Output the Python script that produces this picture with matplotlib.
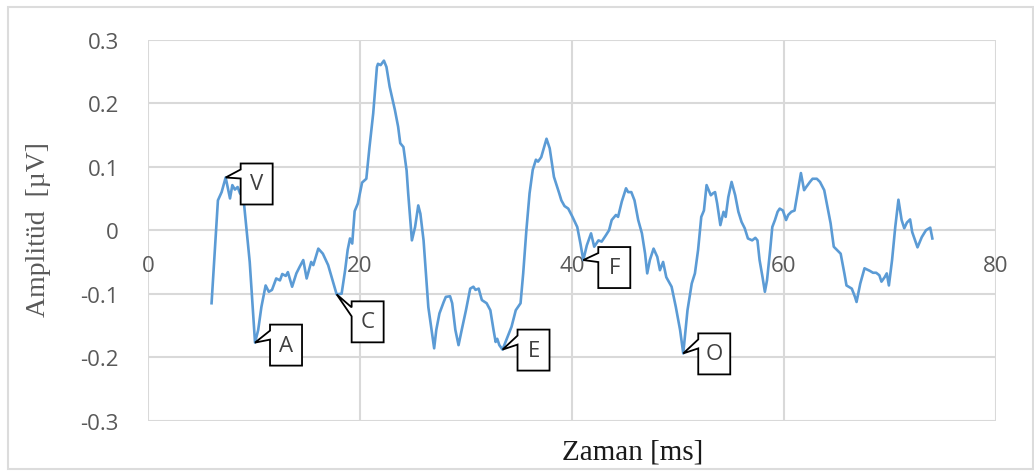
import matplotlib
matplotlib.use("Agg")
import matplotlib.pyplot as plt
from matplotlib.patches import Polygon, Rectangle
from matplotlib.transforms import ScaledTranslation

# traced waveform (time in ms, amplitude in uV)
time_ms = [6.0, 6.6, 6.95, 7.33, 7.74, 7.96, 8.2, 8.46, 8.68, 9.0, 9.6,
           10.1, 10.4, 10.7, 11.1, 11.4, 11.7, 12.1, 12.45, 12.67, 13.0,
           13.2, 13.6, 14.0, 14.3, 14.65, 14.97, 15.4, 15.6, 16.07, 16.5,
           17.0, 17.5, 17.8, 18.27, 18.6, 18.84, 19.06, 19.27, 19.5, 19.8,
           20.2, 20.6, 20.9, 21.25, 21.6, 21.7, 21.95, 22.26, 22.5, 22.8,
           23.3, 23.6, 23.8, 24.1, 24.4, 24.55, 24.9, 25.2, 25.5, 25.7,
           26.0, 26.2, 26.45, 26.8, 27.0, 27.2, 27.5, 27.9, 28.1, 28.5,
           28.7, 29.0, 29.3, 29.6, 30.0, 30.4, 30.7, 30.9, 31.2, 31.5,
           31.95, 32.3, 32.6, 32.8, 32.95, 33.15, 33.45, 33.8, 34.3, 34.7,
           35.15, 35.4, 35.7, 36.0, 36.3, 36.6, 36.8, 37.1, 37.6, 37.9,
           38.3, 38.8, 39.0, 39.3, 39.65, 40.05, 40.5, 40.8, 41.07, 41.4,
           41.8, 42.1, 42.5, 42.8, 43.2, 43.5, 43.75, 44.15, 44.35, 44.7,
           45.1, 45.3, 45.6, 45.9, 46.25, 46.6, 46.9, 47.1, 47.35, 47.7,
           48.05, 48.3, 48.6, 48.9, 49.4, 49.8, 50.2, 50.5, 50.9, 51.3,
           51.6, 51.9, 52.2, 52.45, 52.7, 53.1, 53.3, 53.5, 53.7, 54.0,
           54.3, 54.5, 54.75, 55.06, 55.4, 55.7, 56.0, 56.3, 56.6, 57.0,
           57.3, 57.5, 57.7, 57.98, 58.2, 58.4, 58.7, 58.9, 59.15, 59.4,
           59.6, 59.9, 60.2, 60.4, 60.7, 61.0, 61.35, 61.6, 61.9, 62.1,
           62.45, 62.7, 63.1, 63.4, 63.8, 64.1, 64.4, 64.7, 65.0, 65.35,
           65.7, 65.9, 66.4, 66.7, 66.85, 67.2, 67.6, 68.1, 68.4, 68.7,
           69.0, 69.2, 69.5, 69.7, 69.9, 70.2, 70.5, 70.8, 71.1, 71.35,
           71.6, 71.9, 72.1, 72.6, 73.0, 73.4, 73.8, 74.0]
amplitude = [-0.115, 0.047, 0.060, 0.083, 0.050, 0.071, 0.064, 0.068, 0.058, 0.052, -0.05,
             -0.177, -0.157, -0.121, -0.087, -0.097, -0.094, -0.076, -0.079, -0.069, -0.072,
             -0.066, -0.089, -0.068, -0.058, -0.047, -0.076, -0.050, -0.055, -0.029, -0.037,
             -0.055, -0.084, -0.101, -0.100, -0.063, -0.031, -0.013, -0.021, 0.030, 0.042,
             0.075, 0.081, 0.131, 0.184, 0.257, 0.262, 0.260, 0.267, 0.257, 0.226,
             0.189, 0.163, 0.137, 0.131, 0.094, 0.058, -0.016, 0.005, 0.039, 0.026,
             -0.016, -0.063, -0.121, -0.163, -0.186, -0.157, -0.131, -0.113, -0.105, -0.104,
             -0.115, -0.157, -0.181, -0.157, -0.126, -0.092, -0.089, -0.094, -0.092, -0.110,
             -0.115, -0.126, -0.157, -0.176, -0.171, -0.181, -0.188, -0.173, -0.152, -0.126,
             -0.115, -0.068, 0.000, 0.058, 0.095, 0.111, 0.108, 0.115, 0.144, 0.129,
             0.084, 0.058, 0.047, 0.038, 0.034, 0.021, 0.005, -0.021, -0.047, -0.024,
             -0.005, -0.026, -0.016, -0.018, -0.008, 0.000, 0.016, 0.024, 0.021, 0.045,
             0.066, 0.060, 0.060, 0.047, 0.016, -0.005, -0.037, -0.068, -0.047, -0.029,
             -0.042, -0.063, -0.050, -0.074, -0.089, -0.121, -0.157, -0.194, -0.126, -0.084,
             -0.068, -0.031, 0.021, 0.031, 0.071, 0.055, 0.058, 0.060, 0.042, 0.008,
             0.029, 0.021, 0.052, 0.076, 0.055, 0.029, 0.013, 0.003, -0.013, -0.016,
             -0.012, -0.016, -0.047, -0.074, -0.097, -0.079, -0.031, 0.005, 0.016, 0.029,
             0.034, 0.031, 0.016, 0.024, 0.029, 0.031, 0.066, 0.090, 0.063, 0.068,
             0.076, 0.081, 0.081, 0.076, 0.063, 0.037, 0.011, -0.026, -0.031, -0.037,
             -0.068, -0.087, -0.092, -0.105, -0.113, -0.084, -0.060, -0.064, -0.067, -0.067,
             -0.071, -0.081, -0.074, -0.068, -0.087, -0.047, 0.005, 0.048, 0.016, 0.003,
             0.012, 0.017, -0.003, -0.027, -0.011, 0.000, 0.004, -0.013]

# wave labels
peak_names = ['V', 'A', 'C', 'E', 'F', 'O']
peak_time = [7.33, 10.1, 17.8, 33.45, 41.07, 50.5]
peak_amp = [0.083, -0.177, -0.101, -0.188, -0.047, -0.194]
box_top_px = [-14, -18, 7, -20, -13, -20]   # box top relative to point, pixels

xticks = [0, 20, 40, 60, 80]
yticks = [-0.3, -0.2, -0.1, 0, 0.1, 0.2, 0.3]
ytick_labels = ['-0.3', '-0.2', '-0.1', '0', '0.1', '0.2', '0.3']

grid_c = '#d9d9d9'
tick_c = '#595959'

fig = plt.figure(figsize=(10.34, 4.77), dpi=100)
ax = fig.add_axes([0.1431, 0.1159, 0.8201, 0.7988])

ax.plot(time_ms, amplitude, color='#5b9bd5', lw=1.9, zorder=3)

ax.set_xlim(0, 80)
ax.set_ylim(-0.3, 0.3)
ax.set_xticks(xticks)
ax.set_yticks(yticks)
ax.set_yticklabels(ytick_labels)
ax.grid(True, color=grid_c, lw=1.5)
ax.set_axisbelow(True)
for s in ax.spines.values():
    s.set_visible(False)
ax.spines['bottom'].set_position(('data', 0))
ax.tick_params(length=0, labelsize=16, labelcolor=tick_c)
ax.tick_params(axis='x', pad=18)
ax.tick_params(axis='y', pad=21)
for lab in ax.get_xticklabels() + ax.get_yticklabels():
    lab.set_family('Open Sans')

# callout boxes
L, R = 15, 47
for name, t, v, top in zip(peak_names, peak_time, peak_amp, box_top_px):
    T, B = top, top + 41
    verts = [(0, 0), (L, T + 6), (L, T), (R, T), (R, B), (L, B), (L, T + 15)]
    verts = [(x / 100, -y / 100) for x, y in verts]
    tr = fig.dpi_scale_trans + ScaledTranslation(t, v, ax.transData)
    ax.add_patch(Polygon(verts, closed=True, transform=tr, fc='white',
                         ec='black', lw=1.3, clip_on=False, zorder=5))
    ax.annotate(name, (t, v), xytext=((L + R) / 2, -(T + B) / 2),
                textcoords='offset pixels', ha='center', va='center',
                fontsize=16, color='#404040', family='Open Sans', zorder=6)

fig.text(0.612, 0.052, 'Zaman [ms]', ha='center', va='center',
         fontsize=21, family='Liberation Serif', color='#1a1a1a')
fig.text(0.037, 0.518, 'Amplitüd  [µV]', ha='center', va='center', rotation=90,
         fontsize=20, family='Liberation Serif', color='#595959')

# outer chart frame
fig.patches.append(Rectangle((0.0077, 0.0147), 0.9913, 0.9685, transform=fig.transFigure,
                             fill=False, ec='#dcdcdc', lw=1.5))

fig.savefig('out.png', dpi=100)
